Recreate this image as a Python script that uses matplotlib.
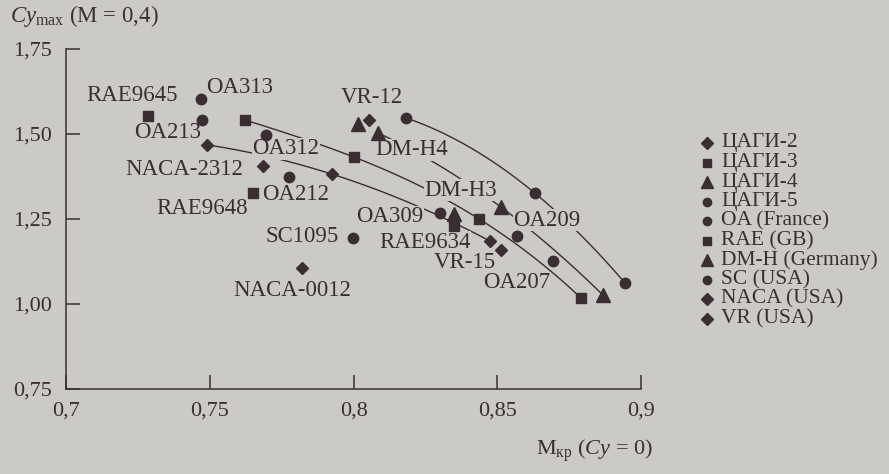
import numpy as np
import matplotlib.pyplot as plt

plt.rcParams['font.family'] = ['Liberation Serif', 'DejaVu Serif']
plt.rcParams['mathtext.fontset'] = 'custom'
plt.rcParams['mathtext.rm'] = 'Liberation Serif'
plt.rcParams['mathtext.it'] = 'Liberation Serif:italic'

bg = '#cbcac6'
ink = '#3a2e33'

# ЦАГИ families (points joined by curves)
tsagi2_x = [0.749, 0.7925, 0.8475]
tsagi2_y = [1.468, 1.382, 1.185]
tsagi3_x = [0.7623, 0.8002, 0.8437, 0.8791]
tsagi3_y = [1.541, 1.432, 1.250, 1.018]
tsagi4_x = [0.8085, 0.8513, 0.8868]
tsagi4_y = [1.503, 1.285, 1.026]
tsagi5_x = [0.8183, 0.8631, 0.8944]
tsagi5_y = [1.547, 1.326, 1.062]

# foreign airfoils
oa_names = ['OA313', 'OA213', 'OA312', 'OA212', 'OA309', 'OA209', 'OA207']
oa_x = [0.747, 0.7473, 0.7696, 0.7776, 0.830, 0.8569, 0.8694]
oa_y = [1.603, 1.541, 1.497, 1.374, 1.268, 1.200, 1.126]
rae_names = ['RAE9645', 'RAE9648', 'RAE9634']
rae_x = [0.7285, 0.765, 0.835]
rae_y = [1.553, 1.326, 1.229]
dmh_names = ['DM-H4', 'DM-H3']
dmh_x = [0.8016, 0.835]
dmh_y = [1.529, 1.265]
sc_names = ['SC1095']
sc_x = [0.7998]
sc_y = [1.194]
naca_names = ['NACA-2312', 'NACA-0012']
naca_x = [0.7685, 0.7821]
naca_y = [1.406, 1.106]
vr_names = ['VR-12', 'VR-15']
vr_x = [0.8054, 0.8513]
vr_y = [1.541, 1.159]

legend_labels = ['ЦАГИ-2', 'ЦАГИ-3', 'ЦАГИ-4', 'ЦАГИ-5', 'OA (France)', 'RAE (GB)',
                 'DM-H (Germany)', 'SC (USA)', 'NACA (USA)', 'VR (USA)']

x_ticks = [0.7, 0.75, 0.8, 0.85, 0.9]
x_tick_labels = ['0,7', '0,75', '0,8', '0,85', '0,9']
y_ticks = [0.75, 1.0, 1.25, 1.5, 1.75]
y_tick_labels = ['0,75', '1,00', '1,25', '1,50', '1,75']

# where the name of each airfoil is written
label_pos = {
    'RAE9645': (0.7230, 1.612), 'OA313': (0.7605, 1.638), 'OA213': (0.7355, 1.503),
    'VR-12': (0.8064, 1.606), 'OA312': (0.7765, 1.456), 'DM-H4': (0.8203, 1.453),
    'NACA-2312': (0.7410, 1.397), 'OA212': (0.7800, 1.3235), 'RAE9648': (0.7473, 1.282),
    'DM-H3': (0.8374, 1.335), 'OA309': (0.8127, 1.256), 'OA209': (0.8673, 1.247),
    'SC1095': (0.7821, 1.200), 'RAE9634': (0.8249, 1.182), 'VR-15': (0.8388, 1.1235),
    'OA207': (0.8569, 1.062), 'NACA-0012': (0.7786, 1.041),
}

marker_of = {'ЦАГИ-2': 'D', 'ЦАГИ-3': 's', 'ЦАГИ-4': '^', 'ЦАГИ-5': 'o',
             'OA (France)': 'o', 'RAE (GB)': 's', 'DM-H (Germany)': '^',
             'SC (USA)': 'o', 'NACA (USA)': 'D', 'VR (USA)': 'D'}
size_of = {'D': 6.5, 's': 7.5, '^': 9.5, 'o': 7.5}
leg_size = {'D': 6.5, 's': 6.0, '^': 8.0, 'o': 6.0}

fig = plt.figure(figsize=(8.89, 4.74), dpi=100, facecolor=bg)
ax = fig.add_axes([66 / 889, 1 - 389 / 474, 575 / 889, 340 / 474])
ax.set_facecolor('none')

# ЦАГИ curves
for xs, ys, lab in [(tsagi2_x, tsagi2_y, 'ЦАГИ-2'), (tsagi3_x, tsagi3_y, 'ЦАГИ-3'),
                    (tsagi4_x, tsagi4_y, 'ЦАГИ-4'), (tsagi5_x, tsagi5_y, 'ЦАГИ-5')]:
    coef = np.polyfit(xs, ys, len(xs) - 1)
    xx = np.linspace(xs[0], xs[-1], 100)
    ax.plot(xx, np.polyval(coef, xx), color=ink, lw=1.0, zorder=2)
    m = marker_of[lab]
    ax.plot(xs, ys, ls='none', marker=m, ms=size_of[m], color=ink, zorder=5, clip_on=False)

# labelled airfoils
for names, xs, ys, lab in [(oa_names, oa_x, oa_y, 'OA (France)'), (rae_names, rae_x, rae_y, 'RAE (GB)'),
                           (dmh_names, dmh_x, dmh_y, 'DM-H (Germany)'), (sc_names, sc_x, sc_y, 'SC (USA)'),
                           (naca_names, naca_x, naca_y, 'NACA (USA)'), (vr_names, vr_x, vr_y, 'VR (USA)')]:
    m = marker_of[lab]
    ax.plot(xs, ys, ls='none', marker=m, ms=size_of[m], color=ink, zorder=5, clip_on=False)
    for n in names:
        lx, ly = label_pos[n]
        ax.text(lx, ly, n, ha='center', va='center', fontsize=16.5, color=ink, zorder=3,
                bbox=dict(facecolor=bg, edgecolor='none', pad=0.3))

ax.set_xlim(0.7, 0.9)
ax.set_ylim(0.75, 1.75)
ax.spines['top'].set_visible(False)
ax.spines['right'].set_visible(False)
for s in ['left', 'bottom']:
    ax.spines[s].set_color(ink)
    ax.spines[s].set_linewidth(1.1)
ax.set_xticks(x_ticks)
ax.set_xticklabels(x_tick_labels)
ax.set_yticks(y_ticks)
ax.set_yticklabels(y_tick_labels)
ax.tick_params(axis='both', direction='in', length=10, width=1.1, color=ink,
               labelcolor=ink, labelsize=16)
ax.tick_params(axis='x', pad=9)
ax.tick_params(axis='y', pad=10)

fig.text(10 / 889, 1 - 16 / 474, r'$Cy_{\mathrm{max}}$ (M = 0,4)', fontsize=16.5,
         color=ink, ha='left', va='center')
fig.text(653 / 889, 1 - 451 / 474, r'M$_{\mathrm{кр}}$ ($Cy$ = 0)', fontsize=16,
         color=ink, ha='right', va='center')

# legend, drawn by hand so the rows sit tight
lax = fig.add_axes([0, 0, 1, 1])
lax.set_xlim(0, 889)
lax.set_ylim(474, 0)
lax.axis('off')
for i, lab in enumerate(legend_labels):
    m = marker_of[lab]
    yy = 143 + i * 19.5
    lax.plot([707], [yy], marker=m, ms=leg_size[m], color=ink, ls='none')
    lax.text(721, yy, lab, fontsize=15.5, color=ink, va='center', ha='left')

fig.savefig('out.png', dpi=100, facecolor=bg)
